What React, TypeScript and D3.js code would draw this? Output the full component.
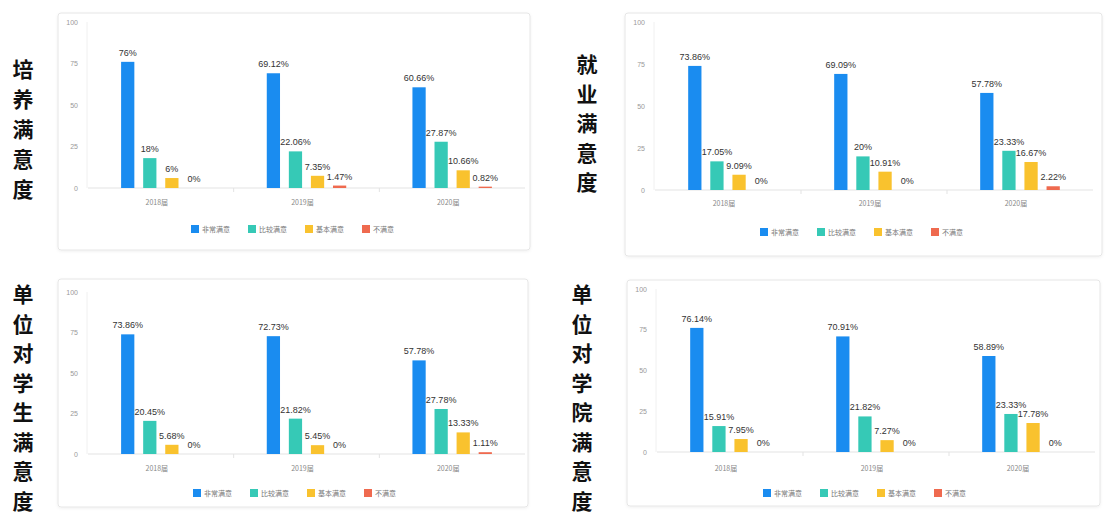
import React from "react";
import * as d3 from "d3";

const years = ["2018届", "2019届", "2020届"];
const seriesNames = ["非常满意", "比较满意", "基本满意", "不满意"];
const seriesColors = ["#1a8cf0", "#36c9b6", "#f9c22e", "#ef6a4f"];
const yTicks = [0, 25, 50, 75, 100];

const titleA = "培养满意度";
const titleB = "就业满意度";
const titleC = "单位对学生满意度";
const titleD = "单位对学院满意度";

// values[yearIndex][seriesIndex]
const valuesA = [
  [76, 18, 6, 0],
  [69.12, 22.06, 7.35, 1.47],
  [60.66, 27.87, 10.66, 0.82],
];
const valuesB = [
  [73.86, 17.05, 9.09, 0],
  [69.09, 20, 10.91, 0],
  [57.78, 23.33, 16.67, 2.22],
];
const valuesC = [
  [73.86, 20.45, 5.68, 0],
  [72.73, 21.82, 5.45, 0],
  [57.78, 27.78, 13.33, 1.11],
];
const valuesD = [
  [76.14, 15.91, 7.95, 0],
  [70.91, 21.82, 7.27, 0],
  [58.89, 23.33, 17.78, 0],
];

type Layout = {
  box: { x: number; y: number; w: number; h: number };
  px0: number;
  px1: number;
  yTop: number;
  yBase: number;
  xLabelY: number;
  legendX: number;
  legendY: number;
  titleX: number;
  titleY0: number;
  titleY1: number;
};

const layouts: Layout[] = [
  { box: { x: 58, y: 13, w: 472, h: 237 }, px0: 88, px1: 525, yTop: 22, yBase: 188, xLabelY: 202, legendX: 191, legendY: 229, titleX: 23, titleY0: 68, titleY1: 188 },
  { box: { x: 625, y: 13, w: 477, h: 243 }, px0: 655, px1: 1093, yTop: 22, yBase: 190, xLabelY: 203, legendX: 760, legendY: 232, titleX: 587, titleY0: 63, titleY1: 181 },
  { box: { x: 58, y: 279, w: 470, h: 228 }, px0: 88, px1: 525, yTop: 292, yBase: 454, xLabelY: 468, legendX: 193, legendY: 493, titleX: 23, titleY0: 293, titleY1: 500 },
  { box: { x: 627, y: 280, w: 473, h: 226 }, px0: 657, px1: 1095, yTop: 289, yBase: 452, xLabelY: 468, legendX: 763, legendY: 493, titleX: 582, titleY0: 293, titleY1: 500 },
];

const panels = [
  { title: titleA, values: valuesA },
  { title: titleB, values: valuesB },
  { title: titleC, values: valuesC },
  { title: titleD, values: valuesD },
];

const latin = "'Liberation Sans', Arial, sans-serif";
const cjk = "'Noto Sans CJK SC', sans-serif";

function Panel({ title, values, L }: { title: string; values: number[][]; L: Layout }) {
  const x0 = d3.scaleBand<string>().domain(years).range([L.px0, L.px1]);
  const x1 = d3
    .scaleBand<string>()
    .domain(seriesNames)
    .range([0, x0.bandwidth()])
    .paddingInner(0.4)
    .paddingOuter(1.5);
  const y = d3.scaleLinear().domain([0, 100]).range([L.yBase, L.yTop]);
  const chars = Array.from(title);
  const ty = d3
    .scalePoint<number>()
    .domain(chars.map((_, i) => i))
    .range([L.titleY0, L.titleY1]);
  const legendStep = 57;

  return (
    <g>
      <rect
        x={L.box.x}
        y={L.box.y}
        width={L.box.w}
        height={L.box.h}
        rx={3}
        fill="#fff"
        stroke="#e6e6e6"
        strokeWidth={1}
        filter="url(#shadow)"
      />
      {chars.map((c, i) => (
        <text
          key={i}
          x={L.titleX}
          y={ty(i)!}
          textAnchor="middle"
          dominantBaseline="central"
          fontFamily={cjk}
          fontWeight={700}
          fontSize={21}
          fill="#111"
        >
          {c}
        </text>
      ))}
      <line x1={L.px0 - 1} x2={L.px0 - 1} y1={L.yTop} y2={L.yBase} stroke="#f0f0f0" />
      {yTicks.map((t) => (
        <text
          key={t}
          x={L.px0 - 10}
          y={y(t)}
          textAnchor="end"
          dominantBaseline="central"
          fontFamily={latin}
          fontSize={7}
          fill="#999"
        >
          {t}
        </text>
      ))}
      <line x1={L.px0} x2={L.px1} y1={L.yBase} y2={L.yBase} stroke="#e3e3e3" />
      {years.slice(1).map((yr) => (
        <line
          key={yr}
          x1={x0(yr)!}
          x2={x0(yr)!}
          y1={L.yBase}
          y2={L.yBase + 4}
          stroke="#e3e3e3"
        />
      ))}
      {years.map((yr) => (
        <text
          key={yr}
          x={x0(yr)! + x0.bandwidth() / 2 - 4}
          y={L.xLabelY}
          textAnchor="middle"
          dominantBaseline="central"
          fontFamily={cjk}
          fontSize={7}
          fill="#888"
        >
          {yr}
        </text>
      ))}
      {years.map((yr, yi) =>
        seriesNames.map((s, si) => {
          const v = values[yi][si];
          const bx = x0(yr)! + x1(s)!;
          const bw = x1.bandwidth();
          return (
            <g key={yr + s}>
              <rect
                x={bx}
                y={y(v)}
                width={bw}
                height={L.yBase - y(v)}
                fill={seriesColors[si]}
              />
              <text
                x={bx + bw / 2}
                y={y(v) - 6}
                textAnchor="middle"
                fontFamily={latin}
                fontSize={9}
                fill="#333"
              >
                {v + "%"}
              </text>
            </g>
          );
        })
      )}
      {seriesNames.map((s, si) => (
        <g key={s} transform={`translate(${L.legendX + si * legendStep},${L.legendY})`}>
          <rect x={0} y={-4} width={8} height={8} fill={seriesColors[si]} />
          <text
            x={11}
            y={0}
            dominantBaseline="central"
            fontFamily={cjk}
            fontSize={7}
            fill="#777"
          >
            {s}
          </text>
        </g>
      ))}
    </g>
  );
}

export default function App() {
  return (
    <div style={{ position: "absolute", left: 0, top: 0, width: 1106, height: 514, background: "#fff" }}>
      <svg width={1106} height={514} viewBox="0 0 1106 514">
        <defs>
          <filter id="shadow" x="-5%" y="-5%" width="110%" height="110%">
            <feDropShadow dx="0" dy="1" stdDeviation="1.5" floodColor="#000" floodOpacity="0.06" />
          </filter>
        </defs>
        <rect width={1106} height={514} fill="#fff" />
        {panels.map((p, i) => (
          <Panel key={i} title={p.title} values={p.values} L={layouts[i]} />
        ))}
      </svg>
    </div>
  );
}
